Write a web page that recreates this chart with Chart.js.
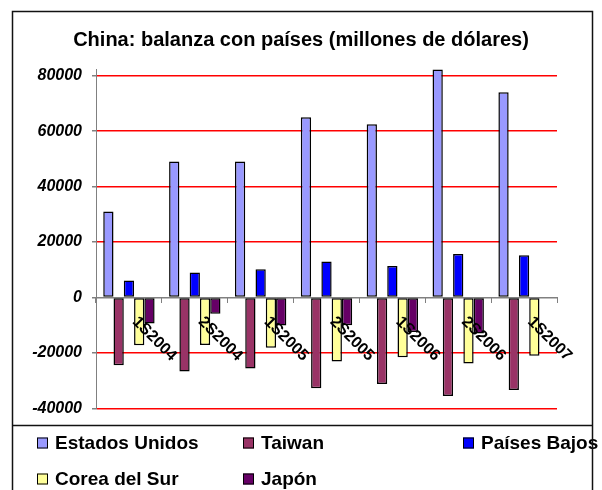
<!DOCTYPE html>
<html>
<head>
<meta charset="utf-8">
<script src="https://cdn.jsdelivr.net/npm/chart.js@4/dist/chart.umd.min.js"></script>
<style>
  html, body { margin: 0; padding: 0; background: #fff; }
  #wrap { width: 602px; height: 490px; }
</style>
</head>
<body>
<div id="wrap"><canvas id="c" width="602" height="490"></canvas></div>
<script>
const titleText = 'China: balanza con países (millones de dólares)';
const categories = ['1S2004', '2S2004', '1S2005', '2S2005', '1S2006', '2S2006', '1S2007'];
const seriesNames = ['Estados Unidos', 'Taiwan', 'Países Bajos', 'Corea del Sur', 'Japón'];
const estadosUnidos = [31000, 49000, 49000, 65000, 62500, 82200, 74000];
const taiwan = [-24500, -26700, -25600, -32800, -31200, -35600, -33400];
const paisesBajos = [6100, 9000, 10200, 13000, 11300, 15700, 15200];
const coreaDelSur = [-17300, -17200, -18200, -23100, -21600, -23800, -21000];
const japon = [-9400, -5900, -10100, -10000, -12500, -13000, null];
const yTickValues = [-40000, -20000, 0, 20000, 40000, 60000, 80000];
const yMin = -40000;
const yMax = 82400;

const seriesColors = ['#9999FF', '#993366', '#0000FF', '#FFFF99', '#660066'];
const seriesData = [estadosUnidos, taiwan, paisesBajos, coreaDelSur, japon];

const FONT = "'Liberation Sans', Arial, sans-serif";

const framePlugin = {
  id: 'frame',
  beforeDraw(chart) {
    const ctx = chart.ctx;
    ctx.save();
    ctx.fillStyle = '#fff';
    ctx.fillRect(0, 0, chart.width, chart.height);
    ctx.restore();
  },
  afterDatasetsDraw(chart) {
    const ctx = chart.ctx;
    const xs = chart.scales.x, ys = chart.scales.y;
    const y0 = ys.getPixelForValue(0);
    ctx.save();
    ctx.fillStyle = '#000';
    ctx.font = 'bold 16px ' + FONT;
    ctx.textAlign = 'left';
    ctx.textBaseline = 'middle';
    categories.forEach((lab, i) => {
      const x = xs.getPixelForValue(i);
      ctx.save();
      ctx.translate(x + 6, y0 + 22);
      ctx.rotate(Math.PI / 4);
      ctx.fillText(lab, 0, 0);
      ctx.restore();
    });
    ctx.restore();
  },
  afterDraw(chart) {
    const ctx = chart.ctx;
    ctx.save();
    // legend
    const cols = [37, 243, 463];
    const rows = [443, 479];
    ctx.font = 'bold 19px ' + FONT;
    ctx.textBaseline = 'middle';
    ctx.textAlign = 'left';
    chart.data.datasets.forEach((ds, i) => {
      const cx = cols[i % 3];
      const cy = rows[Math.floor(i / 3)];
      ctx.fillStyle = ds.backgroundColor;
      ctx.fillRect(cx, cy - 5.5, 11, 11);
      ctx.strokeStyle = '#000';
      ctx.lineWidth = 1;
      ctx.strokeRect(cx + 0.5, cy - 5, 10, 10);
      ctx.fillStyle = '#000';
      ctx.fillText(ds.label, cx + 18, cy + 1);
    });
    // frame
    ctx.strokeStyle = '#111';
    ctx.lineWidth = 1.5;
    ctx.strokeRect(12.5, 11.5, 580, 500);
    ctx.beginPath();
    ctx.moveTo(12, 425.5);
    ctx.lineTo(593, 425.5);
    ctx.stroke();
    ctx.restore();
  }
};

new Chart(document.getElementById('c'), {
  type: 'bar',
  data: {
    labels: categories,
    datasets: seriesNames.map((name, i) => ({
      label: name,
      data: seriesData[i],
      backgroundColor: seriesColors[i],
      borderColor: '#000',
      borderWidth: 1.5,
      borderSkipped: false,
      categoryPercentage: 0.78,
      barPercentage: 1.0
    }))
  },
  options: {
    responsive: false,
    animation: false,
    devicePixelRatio: 1,
    layout: { padding: { left: 0, right: 0, top: 0, bottom: 81.7 } },
    plugins: {
      legend: { display: false },
      tooltip: { enabled: false },
      title: {
        display: true,
        text: titleText,
        color: '#000',
        font: { family: FONT, size: 20, weight: 'bold' },
        padding: { top: 28, bottom: 17 }
      }
    },
    scales: {
      x: {
        type: 'category',
        position: { y: 0 },
        offset: true,
        grid: {
          offset: true,
          drawOnChartArea: false,
          drawTicks: true,
          tickLength: 5,
          color: '#808080',
          tickColor: '#808080'
        },
        border: { display: true, color: '#808080', width: 1 },
        ticks: { display: false }
      },
      y: {
        min: yMin,
        max: yMax,
        afterBuildTicks: s => { s.ticks = yTickValues.map(v => ({ value: v })); },
        afterFit: s => { s.width = 96; },
        grid: {
          color: c => (c.tick && c.tick.value === 0 ? '#808080' : '#FF0000'),
          lineWidth: 1.5,
          tickLength: 4,
          tickColor: '#808080'
        },
        border: { display: true, color: '#808080', width: 1 },
        ticks: {
          color: '#000',
          padding: 10,
          font: { family: FONT, size: 16, weight: 'bold', style: 'italic' },
          callback: v => String(v)
        }
      },
      yRight: {
        type: 'linear',
        position: 'right',
        display: true,
        afterFit: s => { s.width = 45; },
        grid: { display: false, drawOnChartArea: false },
        border: { display: false },
        ticks: { display: false }
      }
    }
  },
  plugins: [framePlugin]
});
</script>
</body>
</html>
